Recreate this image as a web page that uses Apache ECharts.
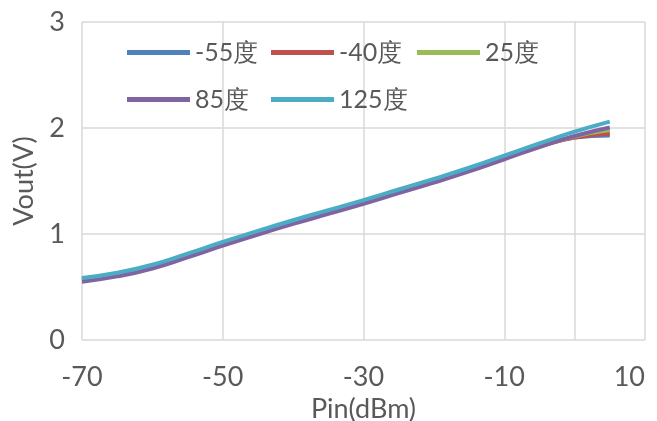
<!DOCTYPE html>
<html><head><meta charset="utf-8">
<script src="https://cdn.jsdelivr.net/npm/echarts@6/dist/echarts.min.js"></script>
<style>html,body{margin:0;padding:0;background:#fff}#c{width:657px;height:421px}</style>
</head><body><div id="c"></div>
<script>
const pin = [-70,-65,-60,-55,-50,-45,-40,-35,-30,-25,-20,-15,-10,-5,0,5];
const seriesNames = ['-55度','-40度','25度','85度','125度'];
const vM55 = [0.57,0.62,0.695,0.80,0.91,1.015,1.115,1.21,1.305,1.405,1.505,1.61,1.72,1.83,1.91,1.93];
const vM40 = [0.565,0.615,0.69,0.795,0.905,1.01,1.11,1.205,1.30,1.40,1.50,1.605,1.715,1.825,1.91,1.945];
const v25  = [0.56,0.61,0.685,0.79,0.90,1.005,1.105,1.20,1.295,1.395,1.495,1.60,1.71,1.825,1.92,1.98];
const v85  = [0.55,0.60,0.675,0.78,0.89,0.995,1.095,1.19,1.285,1.385,1.485,1.59,1.705,1.82,1.925,2.005];
const v125 = [0.585,0.635,0.71,0.815,0.925,1.03,1.13,1.225,1.32,1.42,1.52,1.625,1.74,1.855,1.965,2.06];
const colors = ['#4F81BD','#C0504D','#9BBB59','#8064A2','#4BACC6'];
const allVals = [vM55, vM40, v25, v85, v125];

const font = 'Lato';
const txt = '#595959';
const chart = echarts.init(document.getElementById('c'));
const legendPos = [[127,40],[271,40],[417,40],[127,87],[271,87]];
const legends = seriesNames.map((n,i)=>({
  left:legendPos[i][0], top:legendPos[i][1], data:[n], padding:0,
  itemWidth:63, itemHeight:5, itemGap:6, icon:'rect',
  textStyle:{fontFamily:font, fontSize:25, color:txt}
}));
chart.setOption({
  animation:false,
  color: colors,
  grid:{left:82, right:12, top:22, bottom:81, containLabel:false, outerBoundsMode:'none'},
  legend: legends,
  xAxis:{type:'value', min:-70, max:10, interval:20,
    name:'Pin(dBm)', nameLocation:'middle', nameGap:47,
    nameTextStyle:{fontFamily:font, fontSize:27, color:txt},
    axisLine:{show:false}, axisTick:{show:false},
    axisLabel:{fontFamily:font, fontSize:27, color:txt, margin:24, alignMaxLabel:'right'},
    splitLine:{show:true, lineStyle:{color:'#d9d9d9', width:1.5}}},
  yAxis:{type:'value', min:0, max:3, interval:1,
    name:'Vout(V)', nameLocation:'middle', nameGap:44,
    nameTextStyle:{fontFamily:font, fontSize:27, color:txt},
    axisLine:{show:true, lineStyle:{color:'#d9d9d9', width:1.5}}, axisTick:{show:false},
    axisLabel:{fontFamily:font, fontSize:27, color:txt, margin:17},
    splitLine:{show:true, lineStyle:{color:'#d9d9d9', width:1.5}}},
  series: seriesNames.map((n,i)=>({
    name:n, type:'line', smooth:true, showSymbol:false,
    lineStyle:{width:4, color:colors[i]},
    itemStyle:{color:colors[i]},
    data: pin.map((x,j)=>[x, allVals[i][j]])
  }))
});
</script></body></html>
